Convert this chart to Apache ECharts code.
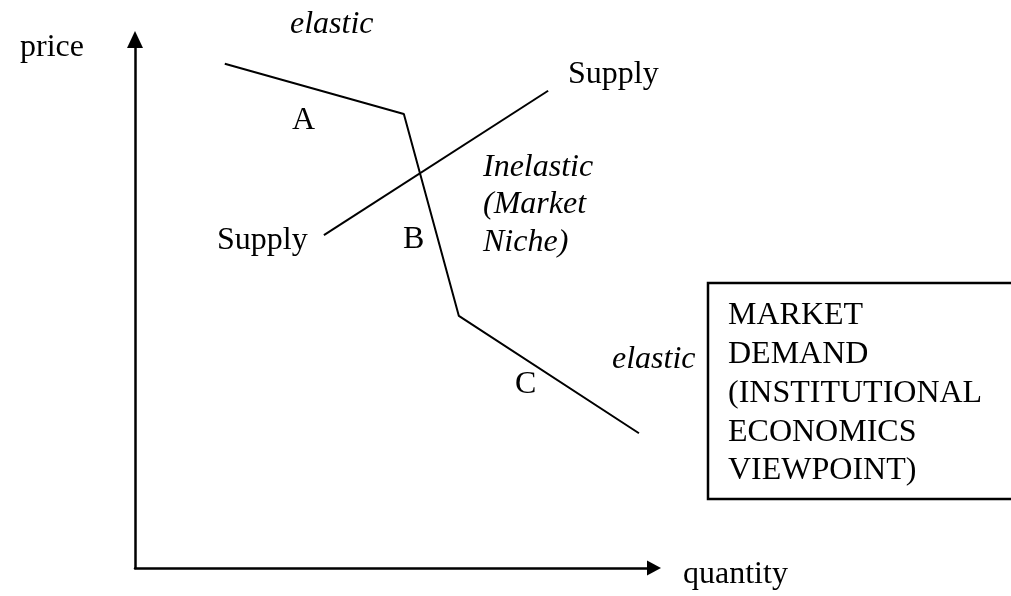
<!DOCTYPE html>
<html>
<head>
<meta charset="utf-8">
<script src="https://cdn.jsdelivr.net/npm/echarts@6/dist/echarts.min.js"></script>
<style>
  html, body { margin: 0; padding: 0; background: #fff; }
  #chart { width: 1011px; height: 596px; }
</style>
</head>
<body>
<div id="chart"></div>
<script>
// demand curve: quantity / price pairs (kinked, elastic - inelastic - elastic)
let demandQty = [17.3, 51.8, 62.4, 97.1];
let demandPrice = [95.4, 85.9, 47.7, 25.5];
// supply line
let supplyQty = [36.4, 79.6];
let supplyPrice = [63.0, 90.3];
let boxLines = ['MARKET', 'DEMAND', '(INSTITUTIONAL', 'ECONOMICS', 'VIEWPOINT)'];

let serif = '"Liberation Serif", "Times New Roman", serif';
let chart = echarts.init(document.getElementById('chart'));

function pairs(xs, ys) {
    return xs.map(function (x, i) { return [x, ys[i]]; });
}

// y is roughly the baseline minus 7 (text is vertically centred)
function label(text, x, y, italic) {
    return {
        type: 'text',
        x: x,
        y: y,
        style: {
            text: text,
            fill: '#000',
            font: (italic ? 'italic ' : '') + '32px ' + serif,
            verticalAlign: 'middle'
        }
    };
}

let graphics = [
    label('price', 20, 48),
    label('elastic', 290, 25, true),
    label('A', 292, 121),
    label('Supply', 568, 75),
    label('Inelastic', 483, 168, true),
    label('(Market', 483, 205, true),
    label('Niche)', 483, 243, true),
    label('B', 403, 240),
    label('Supply', 217, 241),
    label('C', 515, 385),
    label('elastic', 612, 360, true),
    label('quantity', 683, 575),
    {
        type: 'rect',
        shape: { x: 708, y: 283, width: 330, height: 216 },
        style: { fill: '#fff', stroke: '#000', lineWidth: 2.5 }
    }
];
boxLines.forEach(function (t, i) {
    graphics.push(label(t, 728, 316 + i * 38.7));
});

let axisCommon = {
    type: 'value',
    min: 0,
    max: 100,
    axisTick: { show: false },
    axisLabel: { show: false },
    splitLine: { show: false }
};

let option = {
    animation: false,
    backgroundColor: '#fff',
    grid: { left: 135, right: 357, top: 39.5, bottom: 28 },
    xAxis: Object.assign({}, axisCommon, {
        axisLine: {
            show: true,
            symbol: ['none', 'triangle'],
            symbolSize: [15, 14],
            lineStyle: { color: '#000', width: 2.5 }
        }
    }),
    yAxis: Object.assign({}, axisCommon, {
        axisLine: {
            show: true,
            symbol: ['none', 'triangle'],
            symbolSize: [16, 17],
            lineStyle: { color: '#000', width: 2.5 }
        }
    }),
    series: [
        {
            name: 'demand',
            type: 'line',
            data: pairs(demandQty, demandPrice),
            symbol: 'none',
            lineStyle: { color: '#000', width: 2 }
        },
        {
            name: 'supply',
            type: 'line',
            data: pairs(supplyQty, supplyPrice),
            symbol: 'none',
            lineStyle: { color: '#000', width: 2 }
        }
    ],
    graphic: graphics
};
chart.setOption(option);
</script>
</body>
</html>
